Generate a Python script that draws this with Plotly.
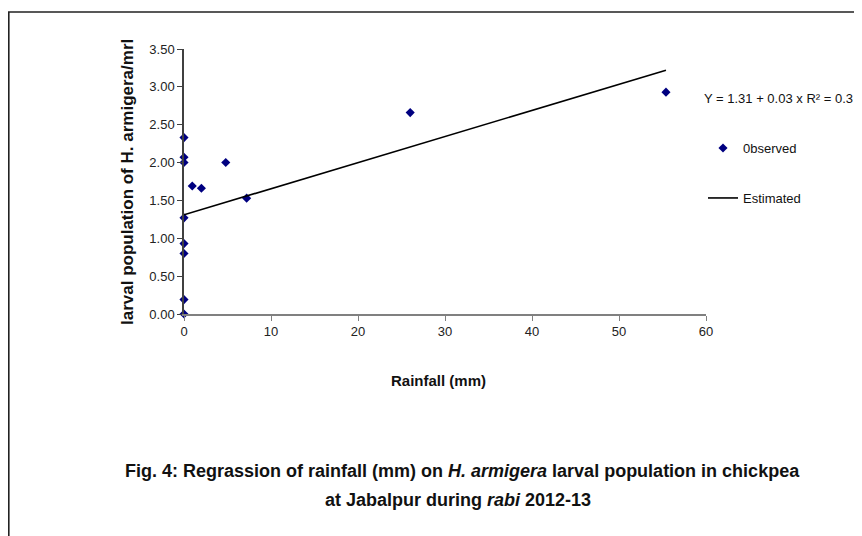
import plotly.graph_objects as go

# Data
rainfall = [0, 0, 0, 0.95, 2.0, 4.8, 7.2, 0, 0, 0, 0, 0, 26.0, 55.4]
larvae = [2.33, 2.07, 2.00, 1.69, 1.66, 2.00, 1.53, 1.27, 0.93, 0.80, 0.19, 0.00, 2.66, 2.93]
est_x = [0, 55.4]
est_y = [1.31, 3.22]
x_ticks = [0, 10, 20, 30, 40, 50, 60]
y_ticks = [0.0, 0.5, 1.0, 1.5, 2.0, 2.5, 3.0, 3.5]

FONT = "Liberation Sans, Arial, sans-serif"

# the page body adds an 8px offset; positions below are given in screenshot pixels
OFF = 8
W, H = 862, 536
L, T = 184 - OFF, 49 - OFF
PW, PH = 522, 265
R, B = W - L - PW, H - T - PH


def px(xp):
    return (xp - OFF - L) / PW


def py(yp):
    return (T + PH - (yp - OFF)) / PH


fig = go.Figure()
fig.add_trace(go.Scatter(
    x=rainfall, y=larvae, mode="markers", name="0bserved",
    marker=dict(symbol="diamond", size=7, color="#000080"),
    cliponaxis=False, legend="legend",
))
fig.add_trace(go.Scatter(
    x=est_x, y=est_y, mode="lines", name="Estimated",
    line=dict(color="#000000", width=1.6),
    cliponaxis=False, legend="legend2",
))

axis_common = dict(
    showgrid=False, zeroline=False, showline=True, linewidth=1.5,
    ticks="outside", ticklen=5, tickwidth=1.2,
    tickfont=dict(family=FONT, size=13, color="#222222"),
)
fig.update_xaxes(range=[0, 60], tickvals=x_ticks, linecolor="#808080",
                 tickcolor="#808080", **axis_common)
fig.update_yaxes(range=[0, 3.5], tickvals=y_ticks, tickformat=".2f",
                 linecolor="#404040", tickcolor="#404040", **axis_common)

legend_common = dict(
    xanchor="left", yanchor="middle", bgcolor="rgba(0,0,0,0)",
    font=dict(family=FONT, size=13, color="#111111"),
    borderwidth=0,
)
fig.update_layout(
    width=W, height=H,
    margin=dict(l=L, r=R, t=T, b=B, autoexpand=False),
    plot_bgcolor="white", paper_bgcolor="white",
    showlegend=True,
    legend=dict(x=px(703), y=py(148), **legend_common),
    legend2=dict(x=px(703), y=py(198), **legend_common),
)

# outer frame
fig.add_shape(type="rect", xref="paper", yref="paper",
              x0=px(8.8), y0=py(H + 200), x1=px(W + 200), y1=py(12),
              line=dict(color="#222222", width=1.6), layer="below")

ann = []
ann.append(dict(text="Y = 1.31 + 0.03 x R² = 0.3", x=px(702), y=py(99),
                xanchor="left", yanchor="middle",
                font=dict(family=FONT, size=13, color="#111111")))
ann.append(dict(text="<b>larval population of H. armigera/mrl</b>", x=px(127), y=py(182),
                textangle=-90, xanchor="center", yanchor="middle",
                font=dict(family=FONT, size=17, color="#111111")))
ann.append(dict(text="<b>Rainfall (mm)</b>", x=px(438), y=py(380),
                xanchor="center", yanchor="middle",
                font=dict(family=FONT, size=15, color="#111111")))
ann.append(dict(text="<b>Fig. 4: Regrassion of rainfall (mm) on <i>H. armigera</i> larval population in chickpea</b>",
                x=px(462), y=py(471), xanchor="center", yanchor="middle",
                font=dict(family=FONT, size=18, color="#111111")))
ann.append(dict(text="<b>at Jabalpur during <i>rabi</i> 2012-13</b>",
                x=px(458), y=py(500), xanchor="center", yanchor="middle",
                font=dict(family=FONT, size=18, color="#111111")))
for a in ann:
    a.update(xref="paper", yref="paper", showarrow=False)
fig.update_layout(annotations=ann)

fig.write_html("out.html")
